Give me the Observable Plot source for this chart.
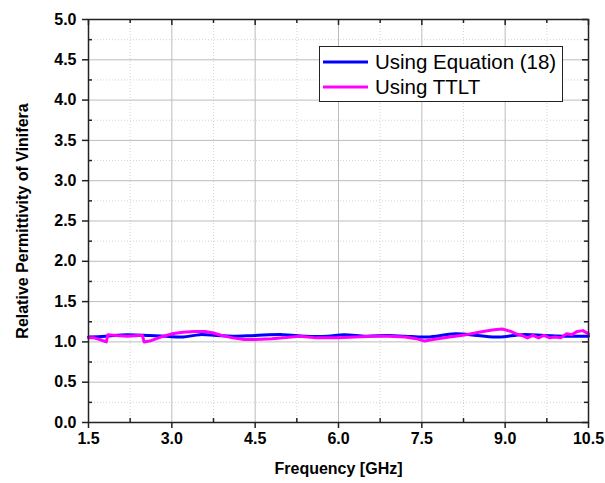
<!DOCTYPE html>
<html><head><meta charset="utf-8">
<script src="https://cdn.jsdelivr.net/npm/d3@7"></script>
<script src="https://cdn.jsdelivr.net/npm/@observablehq/plot@0.6"></script>
<style>
body{margin:0;background:#fff;}
#chart svg{font-family:"Liberation Sans",Arial,sans-serif;}
</style>
</head><body><div id="chart"></div>
<script>
const eqFreq = [1.5,1.8,2.2,2.6,2.9,3.2,3.5,3.8,4.1,4.5,5.0,5.4,5.8,6.1,6.5,6.9,7.2,7.6,8.1,8.5,8.9,9.3,9.7,10.1,10.5];
const eqVal  = [1.06,1.07,1.09,1.08,1.07,1.06,1.09,1.08,1.07,1.08,1.09,1.07,1.07,1.09,1.07,1.08,1.07,1.06,1.10,1.08,1.06,1.09,1.08,1.07,1.07];

const ttFreq = [1.5,1.6,1.7,1.82,1.85,2.0,2.2,2.4,2.47,2.5,2.6,2.8,3.0,3.2,3.4,3.6,3.75,3.9,4.1,4.3,4.5,4.8,5.0,5.3,5.6,6.0,6.3,6.6,6.9,7.2,7.4,7.55,7.7,8.0,8.3,8.6,8.8,8.95,9.1,9.2,9.3,9.4,9.5,9.6,9.7,9.8,9.9,10.0,10.1,10.2,10.3,10.4,10.5];
const ttVal  = [1.05,1.05,1.03,1.00,1.09,1.08,1.07,1.08,1.08,1.00,1.01,1.06,1.10,1.12,1.13,1.13,1.11,1.08,1.05,1.03,1.03,1.04,1.05,1.07,1.05,1.05,1.06,1.07,1.07,1.06,1.04,1.01,1.03,1.06,1.09,1.13,1.15,1.16,1.13,1.10,1.08,1.05,1.08,1.05,1.08,1.05,1.06,1.05,1.10,1.09,1.13,1.14,1.10];

const seriesNames = ["Using Equation (18)","Using TTLT"];
const seriesColors = ["#0000ff","#ff00ff"];

const xMajor = [1.5,3.0,4.5,6.0,7.5,9.0,10.5];
const xMinor = [2.25,3.75,5.25,6.75,8.25,9.75];
const yMajor = [0,0.5,1,1.5,2,2.5,3,3.5,4,4.5,5];
const yMinor = [0.25,0.75,1.25,1.75,2.25,2.75,3.25,3.75,4.25,4.75];

const eqData = eqFreq.map((f,i)=>({f, v:eqVal[i]}));
const ttData = ttFreq.map((f,i)=>({f, v:ttVal[i]}));

const W=605,H=483, mL=88, mR=17, mT=19, mB=61;
const xs = (10.5-1.5)/(W-mL-mR); // data per px
const ys = 5/(H-mT-mB);
const isXMajor = d => xMajor.includes(d);
const isYMajor = d => yMajor.includes(d);

const plot = Plot.plot({
  width:W, height:H,
  marginLeft:mL, marginRight:mR, marginTop:mT, marginBottom:mB,
  x:{domain:[1.5,10.5]},
  y:{domain:[0,5]},
  style:{fontFamily:"Liberation Sans, Arial, sans-serif", background:"#fff"},
  marks:[
    Plot.gridX(xMinor,{stroke:"#d4d4d4", strokeOpacity:1, strokeDasharray:"1,2"}),
    Plot.gridY(yMinor,{stroke:"#d4d4d4", strokeOpacity:1, strokeDasharray:"1,2"}),
    Plot.gridX(xMajor,{stroke:"#bcbcbc", strokeOpacity:1}),
    Plot.gridY(yMajor,{stroke:"#bcbcbc", strokeOpacity:1}),
    Plot.axisX({ticks:xMajor, tickSize:6, tickPadding:4, tickFormat:d3.format(".1f"), fontSize:16, fontWeight:"bold", stroke:"#222", strokeWidth:1.5, color:"#000", label:"Frequency [GHz]", labelArrow:false, labelAnchor:"center", labelOffset:51}),
    Plot.axisY({ticks:yMajor, tickSize:6, tickPadding:6, tickFormat:d3.format(".1f"), fontSize:16, fontWeight:"bold", stroke:"#222", strokeWidth:1.5, color:"#000", label:"Relative Permittivity of Vinifera", labelArrow:false, labelAnchor:"center", labelOffset:72}),
    // inward minor ticks on bottom & left
    Plot.ruleX(xMinor,{x:d=>d, y1:0, y2:4*ys, stroke:"#222", strokeWidth:1.5}),
    Plot.ruleY(yMinor,{y:d=>d, x1:1.5, x2:1.5+4*xs, stroke:"#222", strokeWidth:1.5}),
    // inward ticks on top & right
    Plot.ruleX(xMajor.concat(xMinor),{x:d=>d, y1:5, y2:d=> isXMajor(d)?5-6*ys:5-4*ys, stroke:"#222", strokeWidth:1.5}),
    Plot.ruleY(yMajor.concat(yMinor),{y:d=>d, x1:10.5, x2:d=> isYMajor(d)?10.5-6*xs:10.5-4*xs, stroke:"#222", strokeWidth:1.5}),
    Plot.line(eqData,{x:"f", y:"v", stroke:seriesColors[0], strokeWidth:3, curve:"catmull-rom"}),
    Plot.line(ttData,{x:"f", y:"v", stroke:seriesColors[1], strokeWidth:3}),
    Plot.frame({stroke:"#222", strokeWidth:1.5})
  ]
});
document.getElementById("chart").append(plot);

// legend
const svg = d3.select(plot);
const lg = svg.append("g");
lg.append("rect").attr("x",319.5).attr("y",46.5).attr("width",243).attr("height",55).attr("fill","#fff").attr("stroke","#222").attr("stroke-width",1);
seriesNames.forEach((n,i)=>{
  const yy = 62 + i*25;
  lg.append("line").attr("x1",323).attr("x2",368).attr("y1",yy).attr("y2",yy).attr("stroke",seriesColors[i]).attr("stroke-width",3);
  lg.append("text").attr("x",375).attr("y",yy).attr("dy","0.35em").attr("text-anchor","start").attr("font-size",20.5).attr("fill","#000").attr("font-family","Liberation Sans, Arial, sans-serif").text(n);
});
</script>
</body></html>
